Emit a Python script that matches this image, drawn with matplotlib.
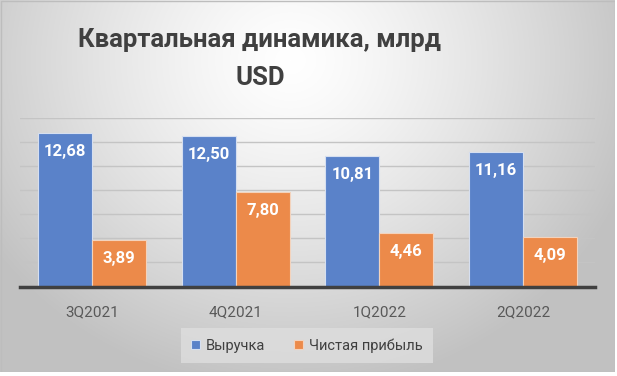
import numpy as np
import matplotlib
matplotlib.use("Agg")
import matplotlib.pyplot as plt
from matplotlib.patches import Rectangle

categories = ["3Q2021", "4Q2021", "1Q2022", "2Q2022"]
revenue = [12.68, 12.50, 10.81, 11.16]
net_profit = [3.89, 7.80, 4.46, 4.09]
series_names = ["Выручка", "Чистая прибыль"]
title_lines = ["Квартальная динамика, млрд", "USD"]

W, H = 617, 376
fig = plt.figure(figsize=(W / 100, H / 100), dpi=100)
fig.patch.set_facecolor("white")

# background chart area with radial gradient
bg = fig.add_axes([0, 4 / H, 615 / W, 372 / H])
bg.set_axis_off()
yy, xx = np.mgrid[0:372, 0:615]
d = np.sqrt(((xx - 290) / 360.0) ** 2 + ((yy - 60) / 330.0) ** 2)
val = 1 - 0.24 * np.clip(d, 0, 1) ** 1.3
img = np.dstack([val, val, val])
bg.imshow(img, aspect="auto", extent=[0, 615, 372, 0])
bg.set_xlim(0, 615)
bg.set_ylim(372, 0)
bg.add_patch(Rectangle((0.5, 0.5), 614, 371, fill=False, edgecolor="#bdbdbd", lw=1))

fam = ["Roboto", "DejaVu Sans"]

# plot axes
ax = fig.add_axes([20 / W, (H - 286.5) / H, 575 / W, 169 / H])
ax.patch.set_alpha(0)
x = np.arange(len(categories))
bw = 0.375
b1 = ax.bar(x - bw / 2, revenue, bw, color="#5A82C9", edgecolor="#d6dff0", linewidth=0.8, zorder=3)
b2 = ax.bar(x + bw / 2, net_profit, bw, color="#EC8A4A", edgecolor="#f3d3bd", linewidth=0.8, zorder=3)
ax.set_xlim(-0.5, len(categories) - 0.5)
ax.set_ylim(0, 14)
ax.set_yticks(np.arange(2, 15, 2))
ax.yaxis.grid(True, color="#c4c4c4", lw=1)
ax.set_axisbelow(True)
ax.tick_params(axis="y", left=False, labelleft=False)
ax.tick_params(axis="x", bottom=False, labelsize=11, labelcolor="#595959", pad=10)
ax.set_xticks(x)
ax.set_xticklabels(categories, family=fam)
for s in ["top", "right", "left"]:
    ax.spines[s].set_visible(False)
ax.spines["bottom"].set_color("#404040")
ax.spines["bottom"].set_linewidth(2.5)
ax.spines["bottom"].set_zorder(4)

for bars, vals in ((b1, revenue), (b2, net_profit)):
    for r, v in zip(bars, vals):
        ax.annotate(f"{v:.2f}".replace(".", ","), (r.get_x() + r.get_width() / 2, v),
                    xytext=(0, -18.5), textcoords="offset pixels",
                    ha="center", va="center", color="white", fontsize=12,
                    fontweight="bold", family=fam, zorder=5)

for line, yb in zip(title_lines, (47, 85)):
    fig.text(260 / W, 1 - yb / H, line, ha="center", va="baseline", fontsize=18.5,
             fontweight="bold", color="#404040", family=fam)

leg = fig.legend([b1, b2], series_names, loc="center", bbox_to_anchor=(307 / W, 1 - 345.5 / H),
                 ncol=2, frameon=True, fancybox=False, facecolor="#dedede", edgecolor="none",
                 framealpha=0.8, prop={"family": fam, "size": 10.5}, handlelength=0.6,
                 handleheight=0.6, handletextpad=0.4, columnspacing=2.0, borderpad=0.7)
for t in leg.get_texts():
    t.set_color("#404040")

fig.savefig("out.png", dpi=100)
